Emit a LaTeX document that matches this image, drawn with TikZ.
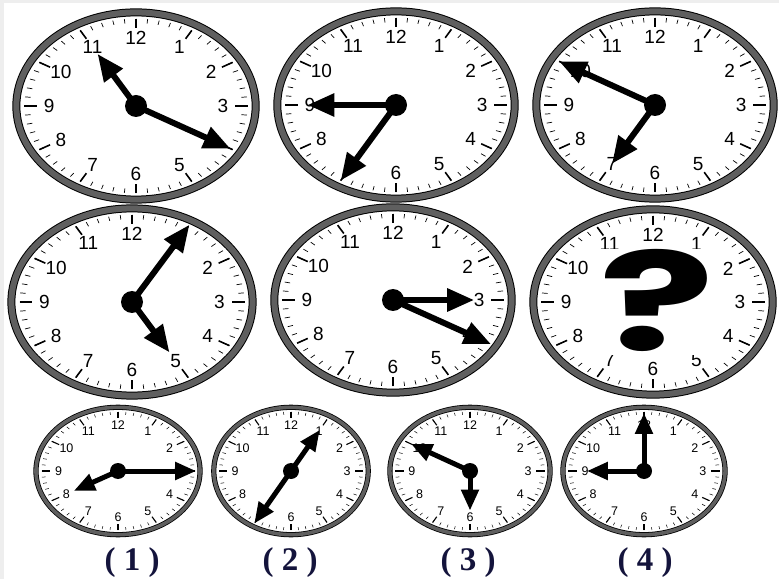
\documentclass[tikz,border=0pt]{standalone}
\usepackage{fontspec}
\usepackage{graphicx}
\usetikzlibrary{arrows.meta}
\newfontfamily\facefont{Liberation Sans}
\newfontfamily\labelfont{Liberation Serif}
\newfontfamily\qfont{Poppins}
\definecolor{ringgray}{HTML}{5f5f5f}
\definecolor{labelnavy}{HTML}{14143c}
\definecolor{edgegray}{HTML}{eeeeee}
\tikzset{
  bigface/.style={
    ring/.style={line width=1pt, draw=black, double=ringgray, double distance=6pt},
    minutetick/.style={line width=0.7pt},
    hourtick/.style={line width=1.6pt},
    facenum/.style={font=\facefont\fontsize{19}{19}\selectfont, inner sep=0pt},
    hand/.style={line width=6pt, -{Triangle[length=27pt, width=22pt]}},
    hub/.style={circle, fill=black, minimum size=22pt, inner sep=0pt}
  },
  smallface/.style={
    ring/.style={line width=0.8pt, draw=black, double=ringgray, double distance=3.6pt},
    minutetick/.style={line width=0.5pt},
    hourtick/.style={line width=1.1pt},
    facenum/.style={font=\facefont\fontsize{12.5}{12.5}\selectfont, inner sep=0pt},
    hand/.style={line width=5pt, -{Triangle[length=21pt, width=17pt]}},
    hub/.style={circle, fill=black, minimum size=16pt, inner sep=0pt}
  },
  choicelabel/.style={font=\labelfont\bfseries\fontsize{33}{33}\selectfont, text=labelnavy, anchor=base, inner sep=0pt},
  qmark/.style={font=\qfont\bfseries\fontsize{130}{130}\selectfont, inner sep=0pt}
}

% face of a clock: name, centre, x radius, y radius, size style
\newcommand{\clockface}[5]{%
  \coordinate (#1) at #2;
  \begin{scope}[shift={#2}, xscale=#3, yscale=#4, #5]
    \draw[ring] (0,0) circle (0.965);
    \foreach \t in {0,...,59}
      \draw[minutetick] (\t*6:0.9) -- (\t*6:0.855);
    \foreach \h in {1,...,12}{
      \draw[hourtick] (90-\h*30:0.9) -- (90-\h*30:0.8);
      \node[facenum] (#1-n\h) at (90-\h*30:0.7) {\h};
    }
  \end{scope}}

% hands: name, x radius, y radius, hour tip, minute tip, size style
\newcommand{\clockhands}[6]{%
  \begin{scope}[shift={(#1)}, xscale=#2, yscale=#3]
    \coordinate (#1-h) at (#4);
    \coordinate (#1-m) at (#5);
  \end{scope}
  \begin{scope}[#6]
    \draw[hand] (#1) -- (#1-h);
    \draw[hand] (#1) -- (#1-m);
    \node[hub] (#1-hub) at (#1) {};
  \end{scope}}

\begin{document}
\begin{tikzpicture}[x=1pt, y=1pt]
  \useasboundingbox (0,0) rectangle (779,579);
  \fill[edgegray] (0,0) rectangle (779,579);
  \fill[white] (4,0) rectangle (779,576);

  % top row
  \clockface{t1}{(136,473)}{124}{97}{bigface}
  \clockface{t2}{(396,474)}{123}{97}{bigface}
  \clockface{t3}{(655,474)}{123}{97}{bigface}
  \clockhands{t1}{124}{97}{120:0.62}{-30:0.88}{bigface}
  \clockhands{t2}{123}{97}{180:0.72}{240:0.9}{bigface}
  \clockhands{t3}{123}{97}{240:0.7}{150:0.9}{bigface}

  % middle row
  \clockface{m1}{(132,277)}{125}{97}{bigface}
  \clockface{m2}{(393,279)}{123}{96}{bigface}
  \clockface{m3}{(653,277)}{124}{96}{bigface}
  \clockhands{m1}{125}{97}{-60:0.6}{60:0.92}{bigface}
  \clockhands{m2}{123}{96}{0:0.66}{-30:0.92}{bigface}

  % the missing clock
  \fill[white] (598,224) rectangle (712,330);
  \node[qmark] (m3-q) at (657,279) {\scalebox{1.65}[1.05]{?}};

  % answers
  \clockface{a1}{(118,108)}{85}{66}{smallface}
  \clockface{a2}{(291,108)}{80}{66}{smallface}
  \clockface{a3}{(470,108)}{83}{66}{smallface}
  \clockface{a4}{(644,108)}{84}{66}{smallface}
  \clockhands{a1}{85}{66}{210:0.6}{0:0.92}{smallface}
  \clockhands{a2}{80}{66}{60:0.72}{240:0.92}{smallface}
  \clockhands{a3}{83}{66}{270:0.6}{150:0.82}{smallface}
  \clockhands{a4}{84}{66}{180:0.68}{90:0.88}{smallface}

  \node[choicelabel] (a1-label) at (132,9) {( 1 )};
  \node[choicelabel] (a2-label) at (290,9) {( 2 )};
  \node[choicelabel] (a3-label) at (468,9) {( 3 )};
  \node[choicelabel] (a4-label) at (645,9) {( 4 )};
\end{tikzpicture}
\end{document}
